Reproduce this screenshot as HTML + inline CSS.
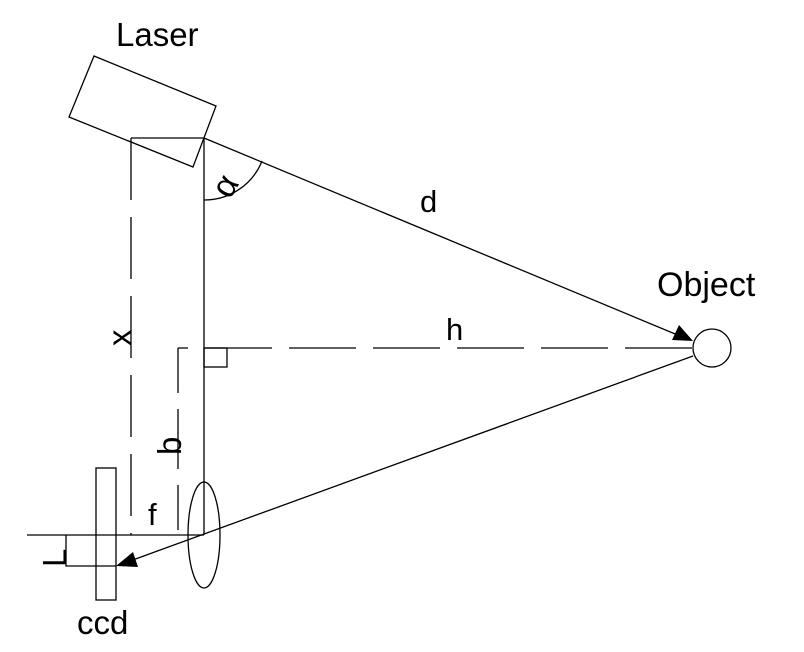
<!DOCTYPE html>
<html><head><meta charset="utf-8"><style>
html,body{margin:0;padding:0;background:#fff;}
svg{display:block;}
text{font-family:"Liberation Sans",sans-serif;fill:#000;}
</style></head><body>
<svg width="804" height="652" viewBox="0 0 804 652" xmlns="http://www.w3.org/2000/svg">
<g stroke="#000" stroke-width="1.3" fill="none">
<polygon points="94,56 216,106 193,167 69,117"/>
<line x1="131" y1="138" x2="204" y2="138"/>
<line x1="204" y1="138" x2="204" y2="535"/>
<line x1="131" y1="138" x2="131" y2="535" stroke-dasharray="62,17"/>
<line x1="692" y1="348" x2="178" y2="348" stroke-dasharray="67,17"/>
<line x1="178" y1="348" x2="178" y2="535" stroke-dasharray="45,16,60,16"/>
<rect x="204" y="348" width="23" height="19"/>
<path d="M204,200 A62,62 0 0 0 262,161"/>
<line x1="204" y1="138" x2="680" y2="336"/>
<circle cx="712" cy="348" r="19"/>
<line x1="693" y1="356" x2="130" y2="561"/>
<line x1="27" y1="535" x2="204" y2="535"/>
<rect x="96" y="468" width="20" height="132"/>
<polyline points="66,535 66,566 116,566"/>
<ellipse cx="204" cy="535" rx="16" ry="53"/>
</g>
<polygon points="693,341 672,340 679,325" fill="#000"/>
<polygon points="116,566 133,552 138,567" fill="#000"/>
<text x="116" y="46" font-size="33">Laser</text>
<text x="420" y="212" font-size="31">d</text>
<text x="657" y="296" font-size="34">Object</text>
<text x="446" y="340" font-size="31">h</text>
<text x="148" y="525" font-size="31">f</text>
<text x="77" y="634" font-size="33">ccd</text>
<text transform="translate(131,346) rotate(-90)" font-size="33">x</text>
<text transform="translate(181,455) rotate(-90)" font-size="33">b</text>
<text transform="translate(66,567) rotate(-90)" font-size="33">L</text>
<text transform="translate(230,200) rotate(-60)" font-size="34">α</text>
</svg>
</body></html>
